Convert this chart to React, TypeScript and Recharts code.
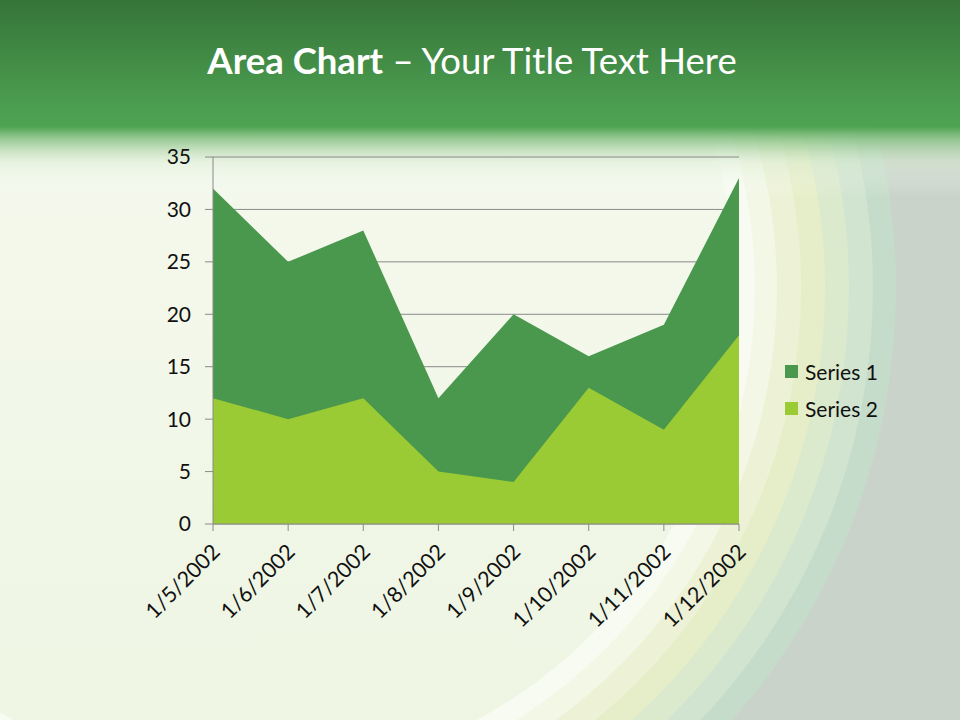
import { AreaChart, Area, XAxis, YAxis, CartesianGrid } from 'recharts';

const dates = ['1/5/2002', '1/6/2002', '1/7/2002', '1/8/2002', '1/9/2002', '1/10/2002', '1/11/2002', '1/12/2002'];
const series1 = [32, 25, 28, 12, 20, 16, 19, 33];
const series2 = [12, 10, 12, 5, 4, 13, 9, 18];
const yTicks = [0, 5, 10, 15, 20, 25, 30, 35];
const seriesNames = ['Series 1', 'Series 2'];
const seriesColors = ['#4a984d', '#9acb34'];

const data = dates.map((d, i) => ({ date: d, s1: series1[i], s2: series2[i] }));

const FONT = 'Lato, "Open Sans", sans-serif';

function DateTick(props: any) {
  const { x, y, payload } = props;
  return (
    <g transform={`translate(${x + 4},${y + 16})`}>
      <text transform="rotate(-45)" textAnchor="end" fontSize={21.5} fill="#111" fontFamily={FONT} dy={6}>
        {payload.value}
      </text>
    </g>
  );
}

function Background() {
  // concentric bands on the right, outermost first
  const rings = [
    { r: 651, c: '#c6dccb' },
    { r: 628, c: '#d0e4cf' },
    { r: 604, c: '#dbe9cc' },
    { r: 580, c: '#e6eec9' },
    { r: 556, c: '#edf2d6' },
    { r: 532, c: '#f3f7e6' },
    { r: 510, c: '#f8fbf1' },
  ];
  return (
    <svg width={960} height={720} style={{ position: 'absolute', left: 0, top: 0 }}>
      <defs>
        <linearGradient id="hdr" x1="0" y1="0" x2="0" y2="1">
          <stop offset="0" stopColor="#367438" />
          <stop offset="0.5" stopColor="#4a9b4f" />
          <stop offset="0.64" stopColor="#4ea352" />
          <stop offset="0.7" stopColor="#86c083" stopOpacity="0.85" />
          <stop offset="0.82" stopColor="#d8ebd2" stopOpacity="0.45" />
          <stop offset="1" stopColor="#ffffff" stopOpacity="0" />
        </linearGradient>
        <linearGradient id="inner" x1="0" y1="0" x2="0" y2="1">
          <stop offset="0" stopColor="#f8fbf3" />
          <stop offset="1" stopColor="#eef5e2" />
        </linearGradient>
      </defs>
      <rect x={0} y={0} width={960} height={720} fill="#c9d3c9" />
      {rings.map((g, i) => (
        <circle key={i} cx={245} cy={288} r={g.r} fill={g.c} />
      ))}
      <circle cx={245} cy={288} r={490} fill="url(#inner)" />
      <rect x={0} y={0} width={960} height={198} fill="url(#hdr)" />
    </svg>
  );
}

export default function App() {
  return (
    <div style={{ position: 'fixed', left: 0, top: 0, width: 960, height: 720, overflow: 'hidden' }}>
      <Background />
      <div
        style={{
          position: 'absolute',
          left: 0,
          top: 38,
          width: 944,
          textAlign: 'center',
          color: '#ffffff',
          fontFamily: FONT,
          fontSize: 36.5,
          lineHeight: '44px',
        }}
      >
        <span style={{ fontWeight: 700 }}>Area Chart</span> – Your Title Text Here
      </div>
      <div style={{ position: 'absolute', left: 0, top: 0 }}>
        <AreaChart width={960} height={720} data={data} margin={{ top: 157, right: 221, bottom: 86, left: 143 }}>
          <CartesianGrid vertical={false} stroke="#8a8a8a" strokeWidth={1} />
          <XAxis
            dataKey="date"
            stroke="#8a8a8a"
            tickSize={7}
            tick={<DateTick />}
            height={110}
            interval={0}
          />
          <YAxis
            domain={[0, 35]}
            ticks={yTicks}
            width={70}
            stroke="#8a8a8a"
            tickSize={8}
            tickMargin={14}
            tick={{ fontSize: 21, fill: '#111', fontFamily: FONT }}
          />
          <Area
            dataKey="s1"
            name={seriesNames[0]}
            type="linear"
            stroke="none"
            fill={seriesColors[0]}
            fillOpacity={1}
            isAnimationActive={false}
          />
          <Area
            dataKey="s2"
            name={seriesNames[1]}
            type="linear"
            stroke="none"
            fill={seriesColors[1]}
            fillOpacity={1}
            isAnimationActive={false}
          />
        </AreaChart>
      </div>
      <div style={{ position: 'absolute', left: 785, top: 357, fontFamily: FONT, fontSize: 21, color: '#111' }}>
        {seriesNames.map((n, i) => (
          <div key={n} style={{ display: 'flex', alignItems: 'center', height: 28, marginBottom: 9 }}>
            <span style={{ width: 13, height: 13, background: seriesColors[i], marginRight: 7 }} />
            {n}
          </div>
        ))}
      </div>
    </div>
  );
}
